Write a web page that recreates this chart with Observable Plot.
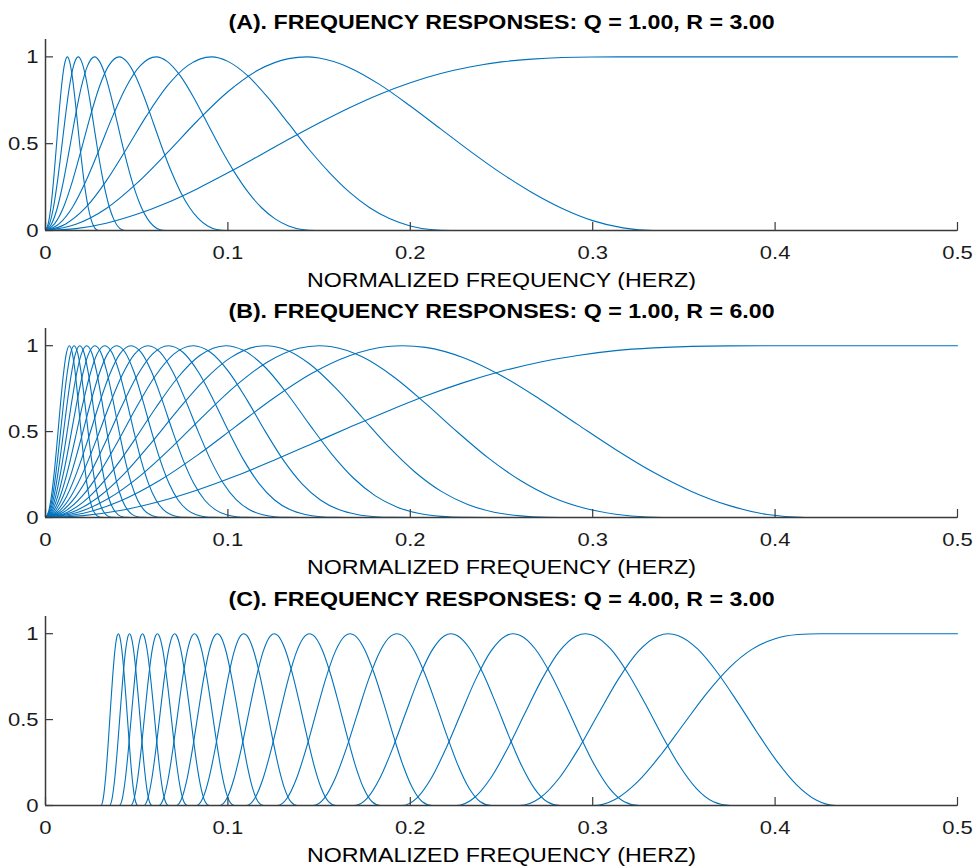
<!DOCTYPE html>
<html>
<head>
<meta charset="utf-8">
<script src="https://cdn.jsdelivr.net/npm/d3@7"></script>
<script src="https://cdn.jsdelivr.net/npm/@observablehq/plot@0.6"></script>
<style>
  body { margin: 0; background: #fff; }
  svg { display: block; }
</style>
</head>
<body>
<div id="chart"></div>
<script>
// ---------- text ----------
const titleA = "(A). FREQUENCY RESPONSES: Q = 1.00, R = 3.00";
const titleB = "(B). FREQUENCY RESPONSES: Q = 1.00, R = 6.00";
const titleC = "(C). FREQUENCY RESPONSES: Q = 4.00, R = 3.00";
const xLabel = "NORMALIZED FREQUENCY (HERZ)";
const xTicks = [0, 0.1, 0.2, 0.3, 0.4, 0.5];
const yTicks = [0, 0.5, 1];

// ---------- panel A (Q = 1, R = 3) ----------
// upper band edge of each band-pass response (lower edge is 0)
const edgesA = [0.3333, 0.2222, 0.1481, 0.0988, 0.0658, 0.0439, 0.0293];
// response shape as [position inside band (0..1), magnitude]
const shapeA1 = [[0,0],[0.05,0.036],[0.1,0.127],[0.15,0.271],[0.2,0.447],[0.25,0.632],[0.3,0.799],[0.35,0.924],[0.4,0.990],[0.43,1],[0.45,0.993],[0.5,0.938],[0.55,0.840],[0.6,0.717],[0.65,0.585],[0.7,0.453],[0.75,0.329],[0.8,0.219],[0.85,0.127],[0.9,0.057],[0.95,0.015],[1,0]];
const shapeA = [[0,0],[0.05,0.038],[0.1,0.134],[0.15,0.286],[0.2,0.471],[0.25,0.663],[0.3,0.831],[0.35,0.948],[0.41,1],[0.45,0.974],[0.5,0.889],[0.55,0.762],[0.6,0.615],[0.65,0.468],[0.7,0.335],[0.75,0.221],[0.8,0.131],[0.85,0.067],[0.9,0.026],[0.95,0.0055],[1,0]];
// high-pass response [frequency, magnitude]
const highA = [[0,0],[0.0167,0.011],[0.0333,0.042],[0.05,0.093],[0.0667,0.160],[0.0833,0.241],[0.1,0.332],[0.1167,0.428],[0.1333,0.525],[0.15,0.619],[0.1667,0.707],[0.1833,0.785],[0.2,0.851],[0.2167,0.904],[0.2333,0.943],[0.25,0.971],[0.2667,0.987],[0.2833,0.996],[0.3,0.999],[0.3333,1],[0.5,1]];

// ---------- panel B (Q = 1, R = 6) ----------
const edgesB = [0.41667, 0.34722, 0.28935, 0.24113, 0.20094, 0.16745, 0.13954, 0.11628, 0.09690, 0.08075, 0.06729, 0.05608, 0.04673, 0.03894, 0.03245];
const shapeB1 = [[0,0],[0.05,0.025],[0.1,0.099],[0.15,0.215],[0.2,0.363],[0.25,0.529],[0.3,0.694],[0.35,0.838],[0.4,0.942],[0.45,0.995],[0.47,1],[0.5,0.990],[0.55,0.930],[0.6,0.825],[0.65,0.690],[0.7,0.542],[0.75,0.396],[0.8,0.263],[0.85,0.152],[0.9,0.069],[0.95,0.017],[1,0]];
const shapeB2 = [[0,0],[0.05,0.029],[0.1,0.112],[0.15,0.244],[0.2,0.411],[0.25,0.593],[0.3,0.766],[0.35,0.904],[0.4,0.985],[0.432,1],[0.45,0.995],[0.5,0.935],[0.55,0.818],[0.6,0.664],[0.65,0.499],[0.7,0.344],[0.75,0.215],[0.8,0.118],[0.85,0.055],[0.9,0.019],[0.95,0.003],[1,0]];
const shapeB3 = [[0,0],[0.05,0.030],[0.1,0.118],[0.15,0.257],[0.2,0.433],[0.25,0.622],[0.3,0.797],[0.35,0.929],[0.4,0.995],[0.418,1],[0.45,0.982],[0.5,0.895],[0.55,0.753],[0.6,0.582],[0.65,0.412],[0.7,0.265],[0.75,0.152],[0.8,0.076],[0.85,0.031],[0.9,0.0095],[0.95,0.0015],[1,0]];
const shapeB4 = [[0,0],[0.05,0.031],[0.1,0.122],[0.15,0.264],[0.2,0.443],[0.25,0.636],[0.3,0.812],[0.35,0.941],[0.41,1],[0.45,0.973],[0.5,0.873],[0.55,0.719],[0.6,0.542],[0.65,0.372],[0.7,0.230],[0.75,0.126],[0.8,0.060],[0.85,0.023],[0.9,0.0066],[0.95,0.0009],[1,0]];
const shapeB = [[0,0],[0.05,0.032],[0.1,0.124],[0.15,0.270],[0.2,0.453],[0.25,0.649],[0.3,0.825],[0.35,0.951],[0.403,1],[0.45,0.962],[0.5,0.848],[0.55,0.683],[0.6,0.500],[0.65,0.331],[0.7,0.196],[0.75,0.102],[0.8,0.046],[0.85,0.017],[0.9,0.0043],[0.95,0.0006],[1,0]];
const highB = [[0,0],[0.0208,0.011],[0.0417,0.042],[0.0625,0.093],[0.0833,0.160],[0.1042,0.241],[0.125,0.332],[0.1458,0.428],[0.1667,0.525],[0.1875,0.619],[0.2083,0.707],[0.2292,0.785],[0.25,0.851],[0.2708,0.904],[0.2917,0.943],[0.3125,0.971],[0.3333,0.987],[0.3542,0.996],[0.375,0.999],[0.4167,1],[0.5,1]];

// ---------- panel C (Q = 4, R = 3) ----------
const edgesC = [0.43333, 0.37556, 0.32548, 0.28209, 0.24448, 0.21188, 0.18363, 0.15915, 0.13793, 0.11954, 0.10360, 0.08979, 0.07782, 0.06744, 0.05845, 0.05066];
const shapeC1 = [[0.6,0],[0.625,0.042],[0.65,0.160],[0.675,0.335],[0.7,0.538],[0.725,0.737],[0.75,0.897],[0.775,0.987],[0.788,1],[0.8,0.990],[0.825,0.911],[0.85,0.774],[0.875,0.606],[0.9,0.428],[0.925,0.260],[0.95,0.122],[0.975,0.032],[1,0]];
const shapeC = [[0.6,0],[0.625,0.042],[0.65,0.160],[0.675,0.335],[0.7,0.538],[0.725,0.737],[0.75,0.897],[0.775,0.987],[0.788,1],[0.8,0.990],[0.825,0.911],[0.85,0.771],[0.875,0.596],[0.9,0.408],[0.925,0.234],[0.95,0.100],[0.975,0.022],[1,0]];
const highC = [[0,0],[0.3,0],[0.3125,0.037],[0.325,0.142],[0.3375,0.297],[0.35,0.476],[0.3625,0.653],[0.375,0.803],[0.3875,0.910],[0.4,0.971],[0.4125,0.995],[0.425,1],[0.4333,1],[0.5,1]];

// ---------- build tables ----------
function buildRows(edges, shapes, high) {
  const rows = [];
  edges.forEach((hi, i) => {
    const shape = shapes[Math.min(i, shapes.length - 1)];
    if (shape[0][0] > 0) rows.push({curve: i, f: 0, y: 0});
    for (const [t, y] of shape) rows.push({curve: i, f: t * hi, y});
    rows.push({curve: i, f: 0.5, y: 0});
  });
  high.forEach(([f, y]) => rows.push({curve: "hp", f, y}));
  return rows;
}

const rowsA = buildRows(edgesA, [shapeA1, shapeA], highA);
const rowsB = buildRows(edgesB, [shapeB1, shapeB2, shapeB3, shapeB4, shapeB], highB);
const rowsC = buildRows(edgesC, [shapeC1, shapeC], highC);

const W = 973, ML = 45, MR = 16;
const AX = "#3a3a3a";
const STRETCH = 1.16; // reference text is horizontally wider than the installed fonts

function panel(title, rows, height, marginTop, marginBottom) {
  const fh = height - marginTop - marginBottom;
  const fw = W - ML - MR;
  return Plot.plot({
    width: W, height,
    marginLeft: ML, marginRight: MR, marginTop, marginBottom,
    style: {fontFamily: "'Liberation Sans', Arial, Helvetica, sans-serif", fontSize: "19px", background: "white", color: "#1a1a1a"},
    x: {domain: [0, 0.5]},
    y: {domain: [0, 1.1]},
    marks: [
      Plot.line(rows, {x: "f", y: "y", z: "curve", stroke: "#0072BD", strokeWidth: 1.1, curve: "monotone-x"}),
      Plot.ruleY([0], {stroke: AX, strokeWidth: 1.5}),
      Plot.ruleX([0], {stroke: AX, strokeWidth: 1.5}),
      Plot.ruleX(xTicks, {x: d => d, insetTop: fh - 8, stroke: AX, strokeWidth: 1.2}),
      Plot.ruleY(yTicks, {y: d => d, insetRight: fw - 8, stroke: AX, strokeWidth: 1.2}),
      Plot.axisX({ticks: xTicks, tickSize: 0, tickPadding: 15, tickFormat: d => String(d), label: null, fontSize: 19, fill: "#1a1a1a"}),
      Plot.axisY({ticks: yTicks, tickSize: 0, tickPadding: 7, tickFormat: d => String(d), label: null, fontSize: 19, fill: "#1a1a1a"}),
      Plot.text([title], {text: d => d, frameAnchor: "top", lineAnchor: "middle", dy: -17, fontWeight: "bold", fontSize: 20, fill: "#000"}),
      Plot.text([xLabel], {text: d => d, frameAnchor: "bottom", lineAnchor: "middle", dy: 50, fontSize: 20, fill: "#000"})
    ]
  });
}

const chart = document.getElementById("chart");
const svgs = [
  panel(titleA, rowsA, 290, 39, 60),
  panel(titleB, rowsB, 290, 38, 63),
  panel(titleC, rowsC, 286, 36, 61)
];
for (const s of svgs) chart.append(s);
// widen the glyphs to match the reference's text extents
for (const s of svgs) {
  s.querySelectorAll("text").forEach(t => {
    const L = t.getComputedTextLength();
    if (L > 0) {
      t.setAttribute("textLength", (L * STRETCH).toFixed(1));
      t.setAttribute("lengthAdjust", "spacingAndGlyphs");
    }
  });
}
</script>
</body>
</html>
